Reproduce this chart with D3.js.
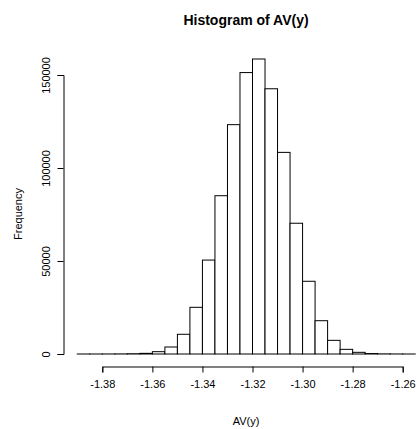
<!DOCTYPE html>
<html><head><meta charset="utf-8">
<script src="https://cdn.jsdelivr.net/npm/d3@7"></script>
<style>body{margin:0;background:#fff}svg{display:block}text{font-family:"Liberation Sans",Arial,sans-serif;fill:#000}</style>
</head><body><div id="chart"></div>
<script>
const binStarts = [-1.39,-1.385,-1.38,-1.375,-1.37,-1.365,-1.36,-1.355,-1.35,-1.345,-1.34,-1.335,-1.33,-1.325,-1.32,-1.315,-1.31,-1.305,-1.30,-1.295,-1.29,-1.285,-1.28,-1.275,-1.27,-1.265,-1.26];
const binWidth = 0.005;
const counts = [3,8,20,60,150,350,1250,3760,10600,25100,50500,85100,123300,151300,158600,142600,108400,70300,39100,17900,7350,2500,900,250,70,20,5];
const xTicks = [-1.38,-1.36,-1.34,-1.32,-1.30,-1.28,-1.26];
const yTicks = [0,50000,100000,150000];
const title = "Histogram of AV(y)";
const xLabel = "AV(y)";
const yLabel = "Frequency";

const W = 417, H = 429;
const svg = d3.select("#chart").append("svg").attr("width", W).attr("height", H);
const x = d3.scaleLinear().domain([-1.38, -1.26]).range([102.3, 402.7]);
const y = d3.scaleLinear().domain([0, 150000]).range([354, 75]);

svg.append("g").selectAll("rect").data(counts).join("rect")
  .attr("x", (d,i) => x(binStarts[i]))
  .attr("width", (d,i) => x(binStarts[i] + binWidth) - x(binStarts[i]))
  .attr("y", d => y(d))
  .attr("height", d => Math.max(0, y(0) - y(d)))
  .attr("fill", "#fff").attr("stroke", "#000").attr("stroke-width", 1);

const fmtX = d => d3.format(".2f")(d).replace("\u2212", "-");
const xa = svg.append("g").attr("transform", "translate(0,366.5)")
  .call(d3.axisBottom(x).tickValues(xTicks).tickSize(6).tickPadding(8).tickFormat(fmtX));
xa.select(".domain").attr("stroke", "#000");
xa.selectAll("line").attr("stroke", "#000");
xa.selectAll("text").attr("font-size", 11).attr("font-family", "Liberation Sans, Arial, sans-serif").attr("fill","#000");

const ya = svg.append("g").attr("transform", "translate(63.5,0)")
  .call(d3.axisLeft(y).tickValues(yTicks).tickSize(6).tickFormat(d3.format("d")));
ya.select(".domain").attr("stroke", "#000");
ya.selectAll("line").attr("stroke", "#000");
ya.selectAll(".tick text")
  .attr("font-size", 11).attr("font-family", "Liberation Sans, Arial, sans-serif").attr("fill","#000")
  .attr("transform", "rotate(-90)").attr("x", 0).attr("y", -14).attr("dy", "0em").attr("text-anchor","middle");

svg.append("text").attr("x", 246).attr("y", 25).attr("text-anchor", "middle")
  .attr("font-size", 14).attr("font-weight", "bold").text(title);
svg.append("text").attr("x", 246).attr("y", 425).attr("text-anchor", "middle")
  .attr("font-size", 11).text(xLabel);
svg.append("text").attr("transform", "translate(22,214) rotate(-90)").attr("text-anchor", "middle")
  .attr("font-size", 11).text(yLabel);
</script></body></html>
